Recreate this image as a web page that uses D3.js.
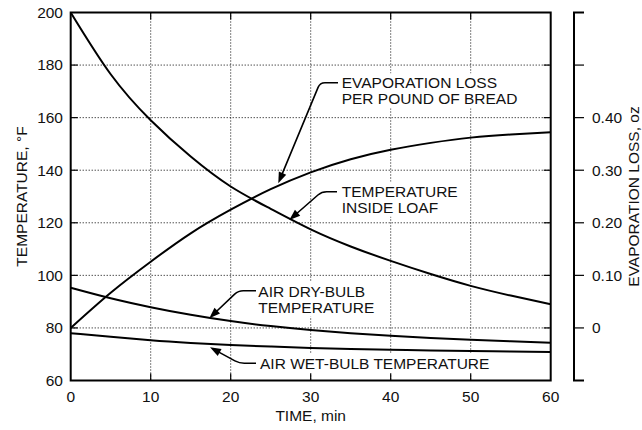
<!DOCTYPE html>
<html>
<head>
<meta charset="utf-8">
<script src="https://cdn.jsdelivr.net/npm/d3@7"></script>
<style>
  body { margin: 0; background: #fff; }
  svg { display: block; font-family: "Liberation Sans", Arial, sans-serif; }
</style>
</head>
<body>
<svg id="chart" width="642" height="430"></svg>
<script>
// time axis, minutes
const times = [0, 5, 10, 15, 20, 25, 30, 35, 40, 45, 50, 55, 60];
// temperatures, °F
const loafTemp   = [200, 176.5, 159, 145.2, 133.8, 125.3, 117.5, 111, 105.5, 100.5, 96, 92.3, 89];
const dryBulb    = [95.3, 91.3, 87.9, 85, 82.6, 80.7, 79.2, 78, 77, 76.2, 75.5, 74.9, 74.4];
const wetBulb    = [78, 76.6, 75.3, 74.3, 73.5, 72.9, 72.4, 72, 71.7, 71.4, 71.2, 71, 70.8];
// evaporation loss, oz per pound of bread (right axis)
const evapLoss   = [0, 0.067, 0.126, 0.18, 0.225, 0.264, 0.296, 0.321, 0.339, 0.352, 0.362, 0.368, 0.372];

const xTicks = [0, 10, 20, 30, 40, 50, 60];
const yTicks = [60, 80, 100, 120, 140, 160, 180, 200];
const rTicks = [-0.1, 0, 0.1, 0.2, 0.3, 0.4, 0.5, 0.6];
const rLabels = [0, 0.1, 0.2, 0.3, 0.4];

const svg = d3.select("#chart");
const pad = { left: 70.7, right: 550.7, top: 12.5, bottom: 380.5 };
const rightAxisX = 574;
const FONT = 15.5;

const x = d3.scaleLinear().domain([0, 60]).range([pad.left, pad.right]);
const y = d3.scaleLinear().domain([60, 200]).range([pad.bottom, pad.top]);
const yr = d3.scaleLinear().domain([-0.1, 0.6]).range([pad.bottom, pad.top]);

// grid (dotted)
const grid = svg.append("g").attr("stroke", "#000").attr("stroke-width", 1).attr("stroke-dasharray", "1,2");
grid.selectAll("line.gx").data(xTicks.slice(1, -1)).join("line")
  .attr("x1", d => x(d)).attr("x2", d => x(d)).attr("y1", pad.top).attr("y2", pad.bottom);
grid.selectAll("line.gy").data(yTicks.slice(1, -1)).join("line")
  .attr("y1", d => y(d)).attr("y2", d => y(d)).attr("x1", pad.left).attr("x2", pad.right);

// annotation labels (white boxes hide the grid)
const notes = [
  { lines: ["EVAPORATION LOSS", "PER POUND OF BREAD"], tip: [278.3, 183.3], elbow: [320, 82.7], end: 338, tx: 341.7, ty: 88.3 },
  { lines: ["TEMPERATURE", "INSIDE LOAF"], tip: [289.3, 220], elbow: [321.7, 191.7], end: 337, tx: 341.7, ty: 196.7 },
  { lines: ["AIR DRY-BULB", "TEMPERATURE"], tip: [209.3, 318.3], elbow: [238.3, 290.7], end: 256, tx: 258.3, ty: 296.7 },
  { lines: ["AIR WET-BULB TEMPERATURE"], tip: [210, 347.3], elbow: [239.3, 363.3], end: 256, tx: 260, ty: 369 }
];

const noteG = svg.append("g");
notes.forEach(n => {
  const g = noteG.append("g");
  const bg = g.append("rect").attr("fill", "#fff");
  const t = g.append("text").attr("font-size", FONT).attr("fill", "#111");
  n.lines.forEach((s, i) => {
    t.append("tspan").attr("x", n.tx).attr("y", n.ty + i * 16).text(s);
  });
  const bb = t.node().getBBox();
  bg.attr("x", bb.x - 3).attr("y", bb.y - 1).attr("width", bb.width + 6).attr("height", bb.height + 2);
});

// curves
const line = d3.line().curve(d3.curveNatural);
const curveG = svg.append("g").attr("fill", "none").attr("stroke", "#000").attr("stroke-width", 2);
[loafTemp, dryBulb, wetBulb].forEach(s => {
  curveG.append("path").attr("d", line(times.map((t, i) => [x(t), y(s[i])])));
});
curveG.append("path").attr("d", line(times.map((t, i) => [x(t), yr(evapLoss[i])])));

// leaders with arrowheads
notes.forEach(n => {
  const [tx0, ty0] = n.tip, [ex, ey] = n.elbow;
  const dx = ex - tx0, dy = ey - ty0, len = Math.hypot(dx, dy);
  const ux = dx / len, uy = dy / len;
  const r = 5;
  const p1 = [ex - ux * r, ey - uy * r];
  const path = d3.path();
  path.moveTo(tx0 + ux * 8, ty0 + uy * 8);
  path.lineTo(p1[0], p1[1]);
  path.quadraticCurveTo(ex, ey, ex + r, ey);
  path.lineTo(n.end, ey);
  svg.append("path").attr("d", path.toString()).attr("fill", "none").attr("stroke", "#000").attr("stroke-width", 1.6);
  const al = 11, aw = 4;
  const bx = tx0 + ux * al, by = ty0 + uy * al;
  svg.append("path")
    .attr("d", `M${tx0},${ty0}L${bx - uy * aw},${by + ux * aw}L${bx + uy * aw},${by - ux * aw}Z`)
    .attr("fill", "#000");
});

// frame
svg.append("rect").attr("x", pad.left).attr("y", pad.top)
  .attr("width", pad.right - pad.left).attr("height", pad.bottom - pad.top)
  .attr("fill", "none").attr("stroke", "#000").attr("stroke-width", 2);

// inner ticks
const tk = svg.append("g").attr("stroke", "#000").attr("stroke-width", 1.2);
xTicks.slice(1, -1).forEach(d => {
  tk.append("line").attr("x1", x(d)).attr("x2", x(d)).attr("y1", pad.bottom).attr("y2", pad.bottom - 7);
  tk.append("line").attr("x1", x(d)).attr("x2", x(d)).attr("y1", pad.top).attr("y2", pad.top + 7);
});
yTicks.slice(1, -1).forEach(d => {
  tk.append("line").attr("y1", y(d)).attr("y2", y(d)).attr("x1", pad.left).attr("x2", pad.left + 7);
  tk.append("line").attr("y1", y(d)).attr("y2", y(d)).attr("x1", pad.right).attr("x2", pad.right - 7);
});

// tick labels
svg.append("g").selectAll("text").data(xTicks).join("text")
  .attr("x", d => x(d)).attr("y", 401.7).attr("text-anchor", "middle")
  .attr("font-size", FONT).attr("fill", "#111").text(d => d);
svg.append("g").selectAll("text").data(yTicks).join("text")
  .attr("x", 63).attr("y", d => y(d)).attr("dy", "0.35em").attr("text-anchor", "end")
  .attr("font-size", FONT).attr("fill", "#111").text(d => d);

// right axis
const ra = svg.append("g");
ra.append("line").attr("x1", rightAxisX).attr("x2", rightAxisX).attr("y1", pad.top).attr("y2", pad.bottom)
  .attr("stroke", "#000").attr("stroke-width", 2);
ra.selectAll("line.t").data(rTicks).join("line")
  .attr("x1", rightAxisX - 1).attr("x2", rightAxisX + 10)
  .attr("y1", d => yr(d)).attr("y2", d => yr(d))
  .attr("stroke", "#000").attr("stroke-width", d => (d === -0.1 || d === 0.6) ? 2 : 1.2);
ra.selectAll("text").data(rLabels).join("text")
  .attr("x", 592).attr("y", d => yr(d)).attr("dy", "0.35em")
  .attr("font-size", FONT).attr("fill", "#111")
  .text(d => d === 0 ? "0" : d3.format(".2f")(d));

// axis titles
svg.append("text").attr("x", x(30)).attr("y", 421).attr("text-anchor", "middle")
  .attr("font-size", FONT).attr("fill", "#111").text("TIME, min");
svg.append("text").attr("transform", `translate(26.5,${(pad.top + pad.bottom) / 2}) rotate(-90)`)
  .attr("text-anchor", "middle").attr("font-size", FONT).attr("fill", "#111").text("TEMPERATURE, °F");
svg.append("text").attr("transform", `translate(638.5,${(pad.top + pad.bottom) / 2}) rotate(-90)`)
  .attr("text-anchor", "middle").attr("font-size", FONT).attr("fill", "#111").text("EVAPORATION LOSS, oz");
</script>
</body>
</html>
